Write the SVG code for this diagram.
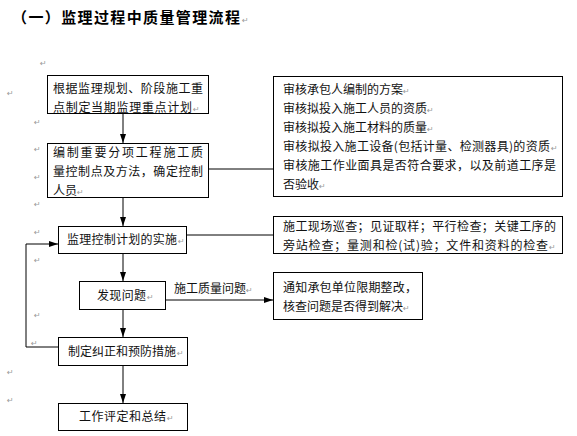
<svg xmlns="http://www.w3.org/2000/svg" width="577" height="436" viewBox="0 0 577 436">
<style>
.box{fill:#fff;stroke:#000;stroke-width:1}
.t{font-family:"Noto Sans CJK SC","Noto Sans CJK JP",sans-serif;font-size:12px;fill:#111}
.pm{font-family:"DejaVu Sans",sans-serif;font-size:8px;fill:#999}
.ln{stroke:#000;stroke-width:1;fill:none}
</style>
<defs>
<marker id="ah" markerUnits="userSpaceOnUse" markerWidth="9" markerHeight="6" refX="9" refY="3" orient="auto">
<path d="M0,0 L9,3 L0,6 Z" fill="#000"/>
</marker>
</defs>
<rect width="577" height="436" fill="#fff"/>
<g id="title">
<text x="12" y="23" font-family="Noto Sans CJK SC,sans-serif" font-size="15" font-weight="bold" fill="#000" textLength="228" lengthAdjust="spacing">（一）监理过程中质量管理流程</text>
<text class="pm" x="242" y="23">↵</text>
</g>
<g id="margin-marks" class="pm">
<text x="40" y="66">↵</text>
<text x="7" y="96">↵</text>
<text x="34" y="125">↵</text>
<text x="34" y="152">↵</text>
<text x="34" y="180">↵</text>
<text x="34" y="207">↵</text>
<text x="34" y="235">↵</text>
<text x="34" y="263">↵</text>
<text x="34" y="318">↵</text>
<text x="31" y="346">↵</text>
<text x="7" y="375">↵</text>
<text x="7" y="403">↵</text>
</g>
<g id="connectors">
<line class="ln" x1="123" y1="114" x2="123" y2="143" marker-end="url(#ah)"/>
<line class="ln" x1="123" y1="197" x2="123" y2="226" marker-end="url(#ah)"/>
<line class="ln" x1="123" y1="253" x2="123" y2="281" marker-end="url(#ah)"/>
<line class="ln" x1="123" y1="309" x2="123" y2="337" marker-end="url(#ah)"/>
<line class="ln" x1="123" y1="365" x2="123" y2="403" marker-end="url(#ah)"/>
<line class="ln" x1="208" y1="169" x2="273" y2="169"/>
<line class="ln" x1="187" y1="235" x2="273" y2="235"/>
<line class="ln" x1="166" y1="300" x2="273" y2="300" marker-end="url(#ah)"/>
<polyline class="ln" points="58,347 26,347 26,244 58,244" marker-end="url(#ah)"/>
</g>
<g id="n1">
<rect class="box" x="47.5" y="75.5" width="161" height="38"/>
<text class="t" x="53" y="92.5" textLength="150" lengthAdjust="spacing">根据监理规划、阶段施工重</text>
<text class="t" x="53" y="111.5" textLength="139" lengthAdjust="spacing">点制定当期监理重点计划</text>
<text class="pm" x="193" y="111.5">↵</text>
</g>
<g id="n2">
<rect class="box" x="47.5" y="143.5" width="161" height="54"/>
<text class="t" x="53" y="156.5" textLength="150" lengthAdjust="spacing">编制重要分项工程施工质</text>
<text class="t" x="53" y="175.5" textLength="150" lengthAdjust="spacing">量控制点及方法，确定控制</text>
<text class="t" x="53" y="194.5">人员<tspan class="pm">↵</tspan></text>
</g>
<g id="n3">
<rect class="box" x="58.5" y="226.5" width="128" height="27"/>
<text class="t" x="67" y="244" textLength="110" lengthAdjust="spacing">监理控制计划的实施</text>
<text class="pm" x="178" y="244">↵</text>
</g>
<g id="n4">
<rect class="box" x="79.5" y="281.5" width="86" height="28"/>
<text class="t" x="97" y="300" textLength="49" lengthAdjust="spacing">发现问题</text>
<text class="pm" x="147" y="300">↵</text>
</g>
<g id="n5">
<rect class="box" x="58.5" y="337.5" width="129" height="28"/>
<text class="t" x="68" y="356" textLength="108" lengthAdjust="spacing">制定纠正和预防措施</text>
<text class="pm" x="177" y="356">↵</text>
</g>
<g id="n6">
<rect class="box" x="58.5" y="403.5" width="129" height="27"/>
<text class="t" x="79" y="421" textLength="87" lengthAdjust="spacing">工作评定和总结</text>
<text class="pm" x="167" y="421">↵</text>
</g>
<g id="r1">
<rect class="box" x="273.5" y="76.5" width="289" height="120"/>
<text class="t" x="283" y="93.5">审核承包人编制的方案<tspan class="pm">↵</tspan></text>
<text class="t" x="283" y="112.5">审核拟投入施工人员的资质<tspan class="pm">↵</tspan></text>
<text class="t" x="283" y="131.5">审核拟投入施工材料的质量<tspan class="pm">↵</tspan></text>
<text class="t" x="283" y="150.5" textLength="267" lengthAdjust="spacing">审核拟投入施工设备(包括计量、检测器具)的资质</text>
<text class="pm" x="551" y="150.5">↵</text>
<text class="t" x="283" y="169.5" textLength="273" lengthAdjust="spacing">审核施工作业面具是否符合要求，以及前道工序是</text>
<text class="t" x="283" y="188.5">否验收<tspan class="pm">↵</tspan></text>
</g>
<g id="r2">
<rect class="box" x="273.5" y="216.5" width="289" height="37"/>
<text class="t" x="283" y="230.5" textLength="273" lengthAdjust="spacing">施工现场巡查；见证取样；平行检查；关键工序的</text>
<text class="t" x="283" y="249.5" textLength="265" lengthAdjust="spacing">旁站检查；量测和检(试)验；文件和资料的检查</text>
<text class="pm" x="549" y="249.5">↵</text>
</g>
<g id="r3">
<rect class="box" x="273.5" y="272.5" width="149" height="47"/>
<text class="t" x="283" y="291.5" textLength="134" lengthAdjust="spacing">通知承包单位限期整改，</text>
<text class="t" x="283" y="310.5">核查问题是否得到解决<tspan class="pm">↵</tspan></text>
</g>
<g id="label">
<text class="t" x="174" y="292.5">施工质量问题<tspan class="pm">↵</tspan></text>
</g>
</svg>
